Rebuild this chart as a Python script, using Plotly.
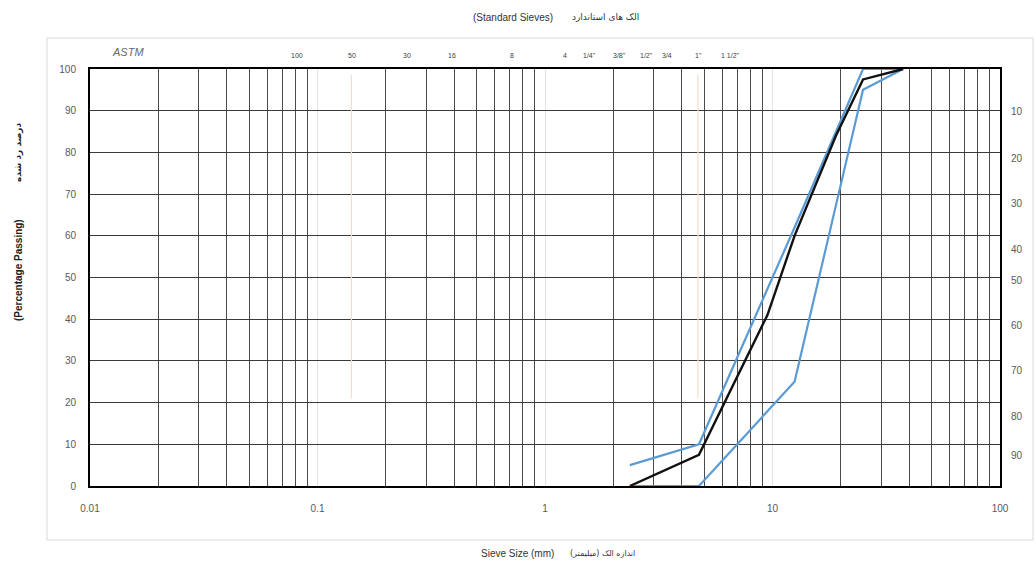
import math
import plotly.graph_objects as go

# ---------------- data ----------------
sieve_mm = [2.36, 4.75, 9.5, 12.5, 19.0, 25.0, 37.5]
sample_passing = [0, 7.5, 41, 60, 84, 97.5, 100]

upper_mm = [2.36, 4.75, 12.5, 25.0, 37.5]
upper_passing = [5, 10, 62, 100, 100]

lower_mm = [2.36, 4.75, 12.5, 25.0, 37.5]
lower_passing = [0, 0, 25, 95, 100]

x_tick_vals = [0.01, 0.1, 1, 10, 100]
x_tick_text = ["0.01", "0.1", "1", "10", "100"]

# ASTM sieve designations shown along the top, with their anchor position (mm) on the log axis
sieve_labels = ["100", "50", "30", "16", "8", "4", '1/4"', '3/8"', '1/2"', "3/4", '1"', '1 1/2"']
sieve_label_pos = [0.081, 0.1413, 0.2474, 0.390, 0.716, 1.224, 1.561, 2.115, 2.78, 3.44, 4.71, 6.51]

# right-hand "retained" scale (labels and where they sit on the passing scale)
retained_text = ["10", "20", "30", "40", "50", "60", "70", "80", "90"]
retained_pos = [89.8, 78.6, 67.7, 56.8, 49.3, 38.5, 27.7, 16.6, 7.4]

# faint marker lines
faint_marks_mm = [0.141, 4.7]
faint_span = [21, 98.6]

minor_vals = [m * 10 ** e for e in range(-2, 2) for m in range(2, 10)]

GRAY = "#595959"
BLUE = "#5B9BD5"

fig = go.Figure()

for xm in faint_marks_mm:
    fig.add_trace(go.Scatter(x=[xm, xm], y=faint_span, mode="lines",
                             line=dict(color="#f6dccb", width=1.2),
                             hoverinfo="skip", showlegend=False))

fig.add_trace(go.Scatter(x=upper_mm, y=upper_passing, mode="lines",
                         line=dict(color=BLUE, width=2.2), showlegend=False))
fig.add_trace(go.Scatter(x=lower_mm, y=lower_passing, mode="lines",
                         line=dict(color=BLUE, width=2.2), showlegend=False))
fig.add_trace(go.Scatter(x=sieve_mm, y=sample_passing, mode="lines",
                         line=dict(color="#111111", width=2.4), showlegend=False))
# invisible trace to activate the right axis
fig.add_trace(go.Scatter(x=[1], y=[50], yaxis="y2", mode="markers",
                         marker=dict(opacity=0), hoverinfo="skip", showlegend=False))

fig.update_layout(
    width=1036, height=567,
    margin=dict(l=90, r=36, t=69, b=81),
    paper_bgcolor="white", plot_bgcolor="white",
    font=dict(family="Liberation Sans, DejaVu Sans, sans-serif", size=10, color=GRAY),
    xaxis=dict(
        type="log", range=[-2, 2],
        tickvals=x_tick_vals, ticktext=x_tick_text,
        showgrid=True, gridcolor="#e3e3e3", gridwidth=1,
        minor=dict(tickvals=minor_vals, showgrid=True, gridcolor="#4a4a4a", gridwidth=1.2),
        showline=True, linecolor="black", linewidth=2, mirror=True,
        ticks="", ticklabelstandoff=12,
        tickfont=dict(size=10, color=GRAY),
        zeroline=False,
    ),
    yaxis=dict(
        range=[0, 100], tickvals=list(range(0, 101, 10)),
        showgrid=True, gridcolor="#3a3a3a", gridwidth=1.3,
        showline=True, linecolor="black", linewidth=2, mirror=True,
        ticks="", ticklabelstandoff=10,
        tickfont=dict(size=10, color=GRAY),
        zeroline=False,
    ),
    yaxis2=dict(
        range=[0, 100], overlaying="y", side="right",
        tickvals=retained_pos, ticktext=retained_text,
        showgrid=False, showline=False, zeroline=False,
        ticks="", ticklabelstandoff=10,
        tickfont=dict(size=10, color=GRAY),
    ),
)

# outer chart-area frame
fig.add_shape(type="rect", xref="paper", yref="paper",
              x0=-43 / 910, x1=(1033 - 90) / 910, y0=-54 / 417, y1=448 / 417,
              line=dict(color="#d9d9d9", width=1), fillcolor="rgba(0,0,0,0)", layer="below")

ann = []
# sieve labels along the top (log axis: annotation x is log10 of the value)
for lab, pos in zip(sieve_labels, sieve_label_pos):
    ann.append(dict(x=math.log10(pos), xref="x", y=1.0, yref="paper", yshift=14, text=lab,
                    showarrow=False, font=dict(size=7, color="#404040"),
                    xanchor="center", yanchor="middle"))
ann.append(dict(x=math.log10(0.0147), xref="x", y=1.0, yref="paper", yshift=17, text="<i>ASTM</i>",
                showarrow=False, font=dict(size=11, color="#6a6a6a"), xanchor="center", yanchor="middle"))
# top title
ann.append(dict(x=555, y=17, text="(Standard Sieves)", showarrow=False,
                font=dict(size=10, color="#333333"), xanchor="right", yanchor="middle"))
ann.append(dict(x=570, y=17, text="الک های استاندارد", showarrow=False,
                font=dict(size=9, color="#333333", family="DejaVu Sans"), xanchor="left", yanchor="middle"))
# x-axis title
ann.append(dict(x=556, y=553, text="Sieve Size (mm)", showarrow=False,
                font=dict(size=10, color="#333333"), xanchor="right", yanchor="middle"))
ann.append(dict(x=568, y=553, text="اندازه الک (میلیمتر)", showarrow=False,
                font=dict(size=8, color="#333333", family="DejaVu Sans"), xanchor="left", yanchor="middle"))
# y-axis titles
ann.append(dict(x=18, y=270, text="<b>(Percentage Passing)</b>", showarrow=False, textangle=-90,
                font=dict(size=10, color="#222222"), xanchor="center", yanchor="middle"))
ann.append(dict(x=18, y=152, text="<b>درصد رد شده</b>", showarrow=False, textangle=-90,
                font=dict(size=9, color="#222222", family="DejaVu Sans"), xanchor="center", yanchor="middle"))

# convert pixel-placed annotations (titles) to paper coordinates
L, T, PW, PH = 90, 69, 910, 417
final = []
for a in ann:
    if a.get("xref") == "x":
        final.append(a)
        continue
    px, py = a["x"], a["y"]
    a["xref"] = "paper"
    a["yref"] = "paper"
    a["x"] = (px - L) / PW
    a["y"] = (T + PH - py) / PH
    final.append(a)
fig.update_layout(annotations=final)

fig.write_html("out.html")
